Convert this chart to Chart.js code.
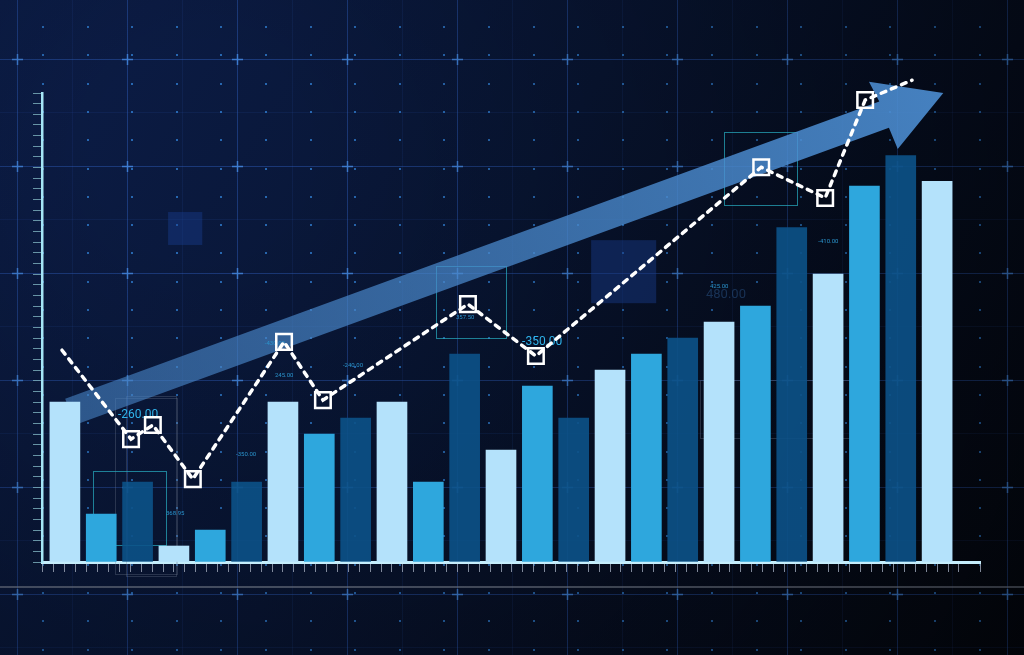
<!DOCTYPE html>
<html lang="en">
  <head>
    <meta charset="UTF-8" />
    <title>Growth Chart</title>
    <script src="https://cdn.jsdelivr.net/npm/chart.js"></script>
    <style>
      body {
        margin: 0;
        background-color: #060d1f;
      }
      .wrap {
        width: 1024px;
        height: 655px;
      }
    </style>
  </head>
  <body>
    <div class="wrap">
      <canvas id="growth-chart" width="1024" height="655"></canvas>
    </div>

    <script>
      // bars, left to right
      const barPositions = [0, 1, 2, 3, 4, 5, 6, 7, 8, 9, 10, 11, 12, 13, 14, 15, 16, 17, 18, 19, 20, 21, 22, 23, 24];
      const barValues = [500, 150, 250, 50, 100, 250, 500, 400, 450, 500, 250, 650, 350, 550, 450, 600, 650, 700, 750, 800, 1045, 900, 1175, 1270, 1190];
      const barShades = ["light", "mid", "dark", "light", "mid", "dark", "light", "mid", "dark", "light", "mid", "dark", "light", "mid", "dark", "light", "mid", "dark", "light", "mid", "dark", "light", "mid", "dark", "light"];

      // dashed trend line
      const linePositions = [-0.08, 1.82, 2.42, 3.52, 6.03, 7.1, 11.09, 12.96, 19.16, 20.92, 22.02, 23.31];
      const lineValues = [662, 384, 428, 259, 688, 506, 806, 644, 1234, 1138, 1444, 1506];

      // big arrow, [position, value]
      const arrowFrom = [0.14, 469];
      const arrowTo = [24.17, 1466];

      // floating readouts
      const noteTexts = ["-260.00", "-350.00", "-350.00", "368.95", "245.00", "-240.00", "-430.00", "357.50", "425.00", "480.00", "-410.00"];
      const notePositions = [1.46, 12.58, 4.71, 2.78, 5.78, 7.65, 5.5, 10.76, 17.75, 17.64, 20.73];
      const noteValues = [450, 678, 331, 147, 578, 609, 678, 759, 856, 825, 997];
      const noteKinds = ["big", "big", "small", "small", "small", "small", "small", "small", "small", "faint", "small"];

      // outlined frames, [pos from, pos to, value from, value to]
      const frames = [
        [0.77, 2.78, 53, 284],
        [10.21, 12.14, 700, 925],
        [18.14, 20.15, 1116, 1344],
      ];
      const panes = [
        [2.84, 3.78, 991, 1094],
        [14.48, 16.27, 809, 1006],
      ];

      const shadeColors = {
        light: "#b4e2fb",
        mid: "#2ea7dd",
        dark: "rgba(12, 82, 136, 0.9)",
      };

      const backdrop = {
        id: "backdrop",
        beforeDraw(chart) {
          const { ctx, width, height } = chart;
          ctx.save();
          const g = ctx.createLinearGradient(0, 0, width, height);
          g.addColorStop(0, "#0c1d48");
          g.addColorStop(0.45, "#081533");
          g.addColorStop(1, "#04070f");
          ctx.fillStyle = g;
          ctx.fillRect(0, 0, width, height);

          // minor lines
          ctx.strokeStyle = "rgba(40, 80, 165, 0.15)";
          ctx.lineWidth = 1;
          for (let x = 72; x < width; x += 110) {
            ctx.beginPath();
            ctx.moveTo(x + 0.5, 0);
            ctx.lineTo(x + 0.5, height);
            ctx.stroke();
          }
          for (let y = 112; y < height; y += 107) {
            ctx.beginPath();
            ctx.moveTo(0, y + 0.5);
            ctx.lineTo(width, y + 0.5);
            ctx.stroke();
          }

          // major lines
          ctx.strokeStyle = "rgba(50, 100, 200, 0.42)";
          for (let x = 17; x < width; x += 110) {
            ctx.beginPath();
            ctx.moveTo(x + 0.5, 0);
            ctx.lineTo(x + 0.5, height);
            ctx.stroke();
          }
          for (let y = 59; y < height; y += 107) {
            ctx.beginPath();
            ctx.moveTo(0, y + 0.5);
            ctx.lineTo(width, y + 0.5);
            ctx.stroke();
          }

          // dots
          ctx.fillStyle = "rgba(50, 130, 215, 0.75)";
          for (let x = 43; x < width; x += 44.6) {
            for (let y = 27; y < height; y += 28.3) {
              ctx.fillRect(Math.round(x) - 1, Math.round(y) - 1, 2, 2);
            }
          }

          // crosses
          ctx.strokeStyle = "rgba(70, 140, 230, 0.8)";
          ctx.lineWidth = 1.5;
          for (let x = 17; x < width; x += 110) {
            for (let y = 59; y < height; y += 107) {
              ctx.beginPath();
              ctx.moveTo(x - 5, y + 0.5);
              ctx.lineTo(x + 6, y + 0.5);
              ctx.moveTo(x + 0.5, y - 5);
              ctx.lineTo(x + 0.5, y + 6);
              ctx.stroke();
            }
          }

          // floor line
          ctx.strokeStyle = "rgba(130, 138, 155, 0.6)";
          ctx.lineWidth = 2;
          ctx.beginPath();
          ctx.moveTo(0, 587);
          ctx.lineTo(width, 587);
          ctx.stroke();

          // darken the right and bottom
          const v = ctx.createRadialGradient(200, 150, 100, 300, 250, 900);
          v.addColorStop(0, "rgba(0, 0, 0, 0)");
          v.addColorStop(1, "rgba(0, 0, 0, 0.45)");
          ctx.fillStyle = v;
          ctx.fillRect(0, 0, width, height);
          ctx.restore();
        },
      };

      const decor = {
        id: "decor",
        beforeDatasetsDraw(chart) {
          const { ctx } = chart;
          const sx = (v) => chart.scales.x.getPixelForValue(v);
          const sy = (v) => chart.scales.y.getPixelForValue(v);
          ctx.save();

          panes.forEach((p) => {
            ctx.fillStyle = "rgba(25, 60, 140, 0.45)";
            ctx.fillRect(sx(p[0]), sy(p[3]), sx(p[1]) - sx(p[0]), sy(p[2]) - sy(p[3]));
          });

          ctx.strokeStyle = "rgba(120, 130, 150, 0.3)";
          ctx.lineWidth = 1;
          ctx.strokeRect(126.5, 396.5, 50, 180);
          ctx.strokeRect(115.5, 398.5, 62, 176);
          ctx.strokeRect(700.5, 380.5, 170, 58);

          ctx.strokeStyle = "rgba(40, 175, 195, 0.7)";
          frames.forEach((f) => {
            ctx.strokeRect(
              Math.round(sx(f[0])) + 0.5,
              Math.round(sy(f[3])) + 0.5,
              Math.round(sx(f[1]) - sx(f[0])),
              Math.round(sy(f[2]) - sy(f[3]))
            );
          });

          // arrow
          const x0 = sx(arrowFrom[0]);
          const y0 = sy(arrowFrom[1]);
          const x1 = sx(arrowTo[0]);
          const y1 = sy(arrowTo[1]);
          const len = Math.hypot(x1 - x0, y1 - y0);
          ctx.translate(x0, y0);
          ctx.rotate(Math.atan2(y1 - y0, x1 - x0));
          const ag = ctx.createLinearGradient(0, 0, len, 0);
          ag.addColorStop(0, "rgba(70, 130, 195, 0.6)");
          ag.addColorStop(1, "rgba(78, 145, 215, 0.88)");
          ctx.fillStyle = ag;
          ctx.beginPath();
          ctx.moveTo(0, -14);
          ctx.lineTo(len - 63, -14);
          ctx.lineTo(len - 66, -36);
          ctx.lineTo(len, 0);
          ctx.lineTo(len - 62, 37);
          ctx.lineTo(len - 63, 14);
          ctx.lineTo(0, 14);
          ctx.closePath();
          ctx.fill();
          ctx.setTransform(1, 0, 0, 1, 0, 0);

          // readouts
          ctx.textBaseline = "alphabetic";
          noteTexts.forEach((t, i) => {
            const kind = noteKinds[i];
            if (kind === "big") {
              ctx.font = "12px Roboto";
              ctx.fillStyle = "#2fb3ea";
            } else if (kind === "faint") {
              ctx.font = "13px Roboto";
              ctx.fillStyle = "rgba(40, 80, 130, 0.55)";
            } else {
              ctx.font = "6px Roboto";
              ctx.fillStyle = "#2a93cc";
            }
            ctx.fillText(t, sx(notePositions[i]), sy(noteValues[i]));
          });
          ctx.restore();
        },
      };

      new Chart(document.getElementById("growth-chart"), {
        type: "bar",
        data: {
          datasets: [
            {
              type: "line",
              data: linePositions.map((x, i) => ({ x: x, y: lineValues[i] })),
              borderColor: "#ffffff",
              borderWidth: 3.5,
              borderDash: [5, 6],
              borderCapStyle: "round",
              tension: 0,
              pointStyle: (ctx) =>
                ctx.dataIndex === 0 || ctx.dataIndex === lineValues.length - 1 ? false : "rect",
              pointRadius: 11,
              pointBorderColor: "#ffffff",
              pointBorderWidth: 2.5,
              pointBackgroundColor: "rgba(0, 0, 0, 0)",
              clip: false,
              order: 1,
            },
            {
              data: barPositions.map((x, i) => ({ x: x, y: barValues[i] })),
              backgroundColor: barShades.map((s) => shadeColors[s]),
              barThickness: 30,
              order: 2,
            },
          ],
        },
        options: {
          responsive: false,
          animation: false,
          layout: {
            padding: { top: 93, right: 44, left: 0, bottom: 0 },
          },
          plugins: {
            legend: { display: false },
            tooltip: { enabled: false },
          },
          scales: {
            x: {
              type: "linear",
              offset: false,
              min: -0.63,
              max: 25.18,
              ticks: { display: false, stepSize: 0.3, maxTicksLimit: 200 },
              grid: {
                offset: false,
                drawOnChartArea: false,
                tickLength: 10,
                color: "rgba(150, 160, 178, 0.85)",
              },
              border: { color: "#c5eefc", width: 3 },
              afterFit: (s) => {
                s.height = 93;
              },
            },
            y: {
              min: 0,
              max: 1466,
              ticks: { display: false, stepSize: 100 / 3, maxTicksLimit: 200 },
              grid: {
                drawOnChartArea: false,
                tickLength: 9,
                color: "rgba(120, 170, 185, 0.85)",
              },
              border: { color: "#a5e6f6", width: 2.5 },
              afterFit: (s) => {
                s.width = 42;
              },
            },
          },
        },
        plugins: [backdrop, decor],
      });
    </script>
  </body>
</html>
